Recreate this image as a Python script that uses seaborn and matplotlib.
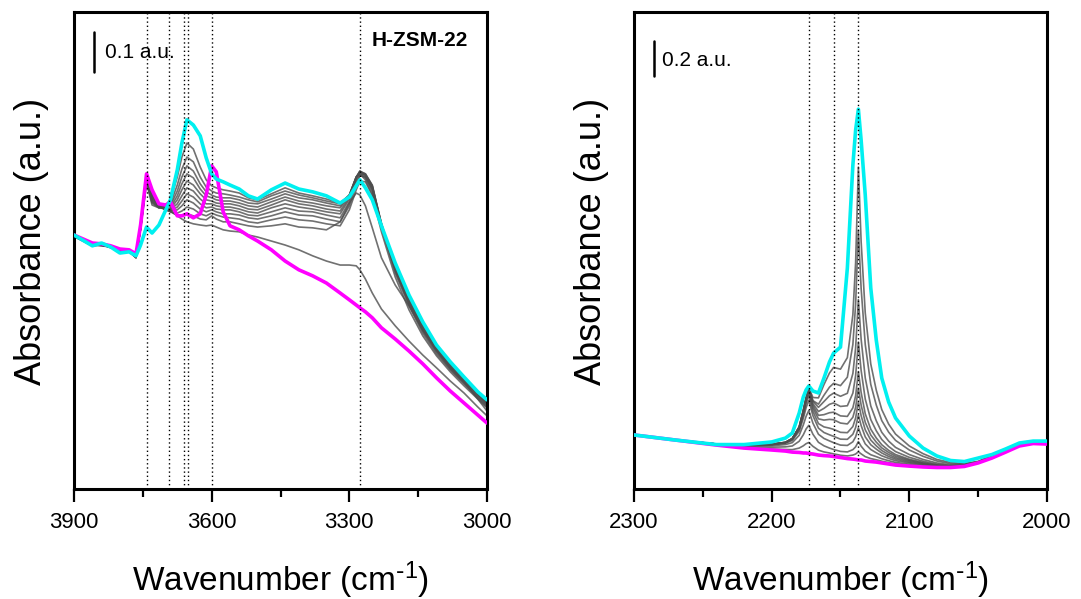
import seaborn as sns
import matplotlib.pyplot as plt
from matplotlib.ticker import MultipleLocator

# ---- O-H stretching region (left panel) ----
oh_wavenumber = [3900, 3860, 3840, 3820, 3800, 3780, 3765, 3755, 3742, 3730, 3715, 3700,
                 3690, 3675, 3665, 3654, 3640, 3625, 3612, 3600, 3590, 3575, 3560, 3540,
                 3520, 3500, 3470, 3440, 3410, 3380, 3350, 3320, 3300, 3285, 3277, 3265,
                 3250, 3230, 3200, 3170, 3140, 3110, 3080, 3050, 3020, 3000]

# activated sample, before CO dosing (magenta)
oh_activated = [.635, .615, .613, .608, .600, .598, .588, .660, .788, .748, .713, .710,
                .718, .683, .683, .688, .678, .688, .735, .808, .793, .693, .658, .648,
                .633, .620, .598, .570, .548, .533, .515, .490, .473, .460, .453, .443,
                .428, .403, .375, .345, .313, .278, .245, .215, .185, .165]

# highest CO coverage (cyan)
oh_saturated = [.635, .608, .615, .605, .590, .593, .583, .610, .655, .640, .660, .698,
                .723, .798, .865, .923, .910, .883, .828, .788, .775, .768, .760, .750,
                .733, .725, .748, .765, .750, .743, .733, .715, .730, .758, .773, .753,
                .723, .658, .565, .485, .418, .360, .318, .280, .243, .223]

# intermediate CO doses (grey)
oh_doses = [
    [.633, .610, .610, .605, .595, .595, .580, .653, .785, .740, .715, .703,
     .695, .683, .675, .668, .663, .660, .658, .660, .655, .648, .645, .643,
     .635, .630, .620, .610, .598, .583, .570, .560, .560, .558, .548, .525,
     .490, .450, .408, .370, .335, .303, .270, .240, .205, .183],
    [.631, .608, .611, .603, .596, .593, .579, .652, .783, .735, .713, .700,
     .693, .685, .683, .688, .683, .675, .673, .683, .675, .668, .668, .663,
     .658, .655, .658, .663, .655, .653, .648, .668, .715, .740, .735, .708,
     .653, .578, .510, .458, .398, .348, .305, .268, .225, .195],
    [.634, .611, .609, .606, .594, .596, .581, .654, .783, .733, .710, .698,
     .693, .690, .695, .705, .700, .688, .683, .690, .685, .680, .678, .675,
     .668, .665, .673, .680, .673, .670, .663, .658, .698, .748, .770, .768,
     .733, .643, .530, .448, .383, .333, .293, .258, .225, .203],
    [.632, .609, .612, .604, .597, .594, .578, .651, .780, .730, .710, .698,
     .695, .698, .708, .723, .715, .700, .693, .698, .693, .688, .688, .685,
     .678, .675, .683, .693, .685, .683, .675, .668, .708, .760, .783, .780,
     .750, .653, .540, .458, .390, .338, .298, .263, .228, .205],
    [.635, .610, .610, .606, .595, .596, .580, .653, .780, .728, .708, .698,
     .695, .705, .720, .738, .730, .713, .703, .705, .700, .698, .698, .693,
     .685, .683, .693, .703, .695, .693, .685, .678, .718, .768, .788, .785,
     .758, .658, .545, .463, .395, .343, .300, .265, .230, .208],
    [.633, .611, .608, .605, .593, .595, .579, .652, .778, .725, .708, .698,
     .698, .713, .733, .753, .745, .725, .713, .713, .708, .705, .705, .700,
     .693, .690, .703, .713, .705, .700, .693, .688, .725, .775, .793, .788,
     .760, .663, .548, .465, .398, .345, .303, .268, .233, .210],
    [.632, .609, .611, .604, .596, .593, .581, .654, .778, .723, .705, .698,
     .700, .723, .748, .770, .760, .738, .723, .720, .715, .713, .713, .708,
     .700, .698, .710, .723, .713, .708, .700, .695, .730, .778, .795, .788,
     .758, .663, .550, .468, .400, .348, .305, .270, .235, .213],
    [.634, .610, .609, .606, .594, .596, .580, .653, .775, .720, .705, .700,
     .703, .733, .763, .788, .778, .750, .733, .728, .723, .720, .720, .715,
     .708, .705, .718, .730, .720, .715, .708, .703, .733, .780, .795, .785,
     .755, .663, .553, .470, .403, .350, .308, .273, .238, .213],
    [.633, .608, .610, .605, .595, .594, .578, .652, .773, .718, .703, .703,
     .708, .745, .780, .808, .795, .763, .743, .735, .730, .728, .728, .723,
     .715, .713, .725, .738, .728, .723, .715, .708, .735, .780, .793, .783,
     .750, .660, .553, .473, .405, .353, .310, .275, .238, .215],
    [.635, .611, .611, .604, .596, .595, .580, .651, .770, .715, .703, .705,
     .713, .760, .800, .830, .818, .780, .755, .745, .740, .738, .735, .730,
     .723, .718, .733, .745, .735, .728, .720, .713, .735, .780, .790, .778,
     .745, .658, .555, .475, .408, .355, .313, .275, .240, .215],
    [.633, .609, .612, .606, .594, .594, .581, .650, .765, .710, .703, .710,
     .723, .780, .830, .865, .850, .805, .773, .758, .753, .748, .745, .740,
     .728, .723, .738, .753, .740, .733, .725, .715, .735, .780, .788, .773,
     .738, .658, .558, .478, .410, .358, .313, .278, .240, .218],
]

oh_bands = [3742, 3692, 3660, 3652, 3600, 3277]

# ---- C-O stretching region (right panel) ----
co_wavenumber = [2300, 2270, 2240, 2220, 2200, 2190, 2185, 2180, 2177, 2175, 2173, 2170,
                 2166, 2162, 2158, 2155, 2150, 2145, 2141, 2139, 2137, 2135, 2132, 2128,
                 2124, 2120, 2115, 2110, 2100, 2090, 2080, 2070, 2060, 2050, 2040, 2030,
                 2020, 2010, 2000]

co_activated = [.309, .280, .251, .234, .223, .217, .211, .209, .206, .206, .203, .200,
                 .194, .191, .189, .186, .180, .174, .171, .169, .166, .166, .160, .157,
                 .154, .149, .143, .137, .131, .126, .123, .123, .129, .149, .177, .211,
                 .246, .260, .257]

co_saturated = [.309, .280, .254, .254, .269, .291, .320, .434, .526, .566, .589, .560,
                .549, .634, .726, .777, .811, 1.263, 1.851, 2.051, 2.171, 1.994, 1.680, 1.149,
                .851, .634, .497, .406, .303, .234, .189, .163, .157, .177, .197, .229,
                .263, .274, .274]

co_doses = [
    [.309, .280, .252, .237, .229, .226, .225, .234, .247, .259, .266, .244,
     .222, .212, .206, .201, .193, .189, .194, .200, .213, .201, .185, .174,
     .167, .159, .151, .143, .136, .129, .125, .124, .129, .149, .178, .212,
     .247, .261, .258],
    [.309, .280, .254, .242, .239, .241, .246, .273, .310, .343, .364, .313,
     .267, .247, .234, .226, .215, .212, .225, .241, .271, .245, .216, .196,
     .185, .173, .162, .152, .142, .133, .127, .125, .130, .149, .179, .213,
     .248, .262, .259],
    [.309, .280, .256, .246, .247, .254, .265, .307, .366, .415, .449, .376,
     .313, .289, .275, .265, .251, .249, .270, .298, .350, .306, .258, .226,
     .207, .190, .175, .162, .149, .138, .130, .126, .131, .150, .180, .214,
     .249, .263, .260],
    [.309, .280, .257, .249, .253, .262, .277, .330, .404, .464, .507, .419,
     .348, .323, .310, .301, .285, .284, .313, .351, .424, .363, .298, .253,
     .228, .206, .186, .171, .154, .142, .132, .127, .131, .150, .181, .215,
     .250, .263, .261],
    [.309, .280, .257, .250, .255, .265, .283, .341, .422, .488, .535, .444,
     .374, .355, .348, .341, .324, .322, .357, .406, .499, .419, .338, .280,
     .247, .220, .197, .179, .160, .145, .134, .128, .132, .151, .182, .216,
     .251, .264, .262],
    [.309, .280, .257, .251, .256, .266, .286, .347, .433, .501, .552, .463,
     .401, .394, .398, .396, .377, .372, .410, .466, .576, .480, .381, .309,
     .268, .235, .209, .188, .165, .148, .136, .129, .133, .151, .183, .217,
     .252, .265, .263],
    [.309, .280, .257, .251, .256, .267, .288, .351, .440, .511, .563, .477,
     .421, .425, .436, .439, .418, .415, .464, .533, .671, .552, .430, .342,
     .292, .253, .221, .197, .170, .152, .138, .131, .134, .151, .184, .218,
     .253, .266, .264],
    [.309, .280, .257, .251, .256, .267, .289, .353, .444, .515, .568, .488,
     .443, .461, .484, .492, .472, .476, .548, .647, .840, .678, .514, .397,
     .333, .283, .243, .214, .181, .159, .142, .134, .135, .152, .186, .220,
     .254, .267, .265],
    [.309, .280, .257, .251, .256, .267, .289, .355, .449, .521, .576, .501,
     .467, .500, .533, .548, .530, .547, .660, .806, 1.083, .857, .635, .475,
     .390, .324, .274, .238, .197, .169, .149, .138, .138, .153, .188, .222,
     .256, .268, .267],
    [.309, .280, .257, .250, .255, .265, .288, .354, .447, .517, .572, .505,
     .485, .536, .582, .604, .591, .639, .826, 1.055, 1.479, 1.147, .826, .598,
     .480, .391, .325, .278, .223, .187, .160, .145, .142, .156, .190, .224,
     .258, .270, .269],
    [.309, .280, .257, .250, .254, .264, .288, .355, .452, .523, .579, .523,
     .521, .597, .663, .695, .685, .751, .996, 1.294, 1.840, 1.415, 1.006, .715,
     .565, .454, .371, .314, .246, .202, .169, .152, .146, .158, .193, .226,
     .260, .272, .271],
]

co_bands = [2173, 2155, 2137]


sns.set_style("ticks")
plt.rcParams["font.family"] = ["Liberation Sans", "DejaVu Sans"]
plt.rcParams["mathtext.default"] = "regular"
plt.rcParams["text.color"] = "black"
plt.rcParams["axes.labelcolor"] = "black"
plt.rcParams["xtick.color"] = "black"


def draw_panel(ax, wn, activated, saturated, doses, bands, xlim, ylim, major, minor):
    # grey spectra for the intermediate doses, then the two extremes on top
    for spectrum in doses:
        sns.lineplot(x=wn, y=spectrum, ax=ax, color="#4d4d4d", lw=1.2,
                     alpha=0.8, estimator=None, zorder=2)
    sns.lineplot(x=wn, y=activated, ax=ax, color="#ff00ff", lw=2.6,
                 estimator=None, zorder=3)
    sns.lineplot(x=wn, y=saturated, ax=ax, color="#00f0f0", lw=2.6,
                 estimator=None, zorder=4)

    for b in bands:
        ax.axvline(b, color="black", ls=(0, (1, 2)), lw=1.0, zorder=5)

    ax.set_xlim(*xlim)
    ax.set_ylim(*ylim)
    ax.xaxis.set_major_locator(MultipleLocator(major))
    ax.xaxis.set_minor_locator(MultipleLocator(minor))
    ax.set_yticks([])
    ax.tick_params(axis="x", which="major", direction="out", length=9.5,
                   width=1.6, labelsize=16, pad=7, top=False)
    ax.tick_params(axis="x", which="minor", direction="out", length=5.5,
                   width=1.6, top=False)
    for spine in ax.spines.values():
        spine.set_linewidth(2.2)
        spine.set_color("black")
    ax.set_xlabel("Wavenumber (cm$^{\\text{-}1}$)", fontsize=24, labelpad=19)
    ax.set_ylabel("Absorbance (a.u.)", fontsize=26, labelpad=18)
    ax.yaxis.label.set_y(0.52)


fig = plt.figure(figsize=(10.81, 5.99), dpi=100)
ax1 = fig.add_axes([0.0685, 0.1836, 0.382, 0.7963])
ax2 = fig.add_axes([0.5865, 0.1836, 0.382, 0.7963])

draw_panel(ax1, oh_wavenumber, oh_activated, oh_saturated, oh_doses, oh_bands,
           (3900, 3000), (0, 1.1925), 300, 150)
draw_panel(ax2, co_wavenumber, co_activated, co_saturated, co_doses, co_bands,
           (2300, 2000), (0, 2.726), 100, 50)

# scale bars
ax1.plot([3856, 3856], [1.0425, 1.1425], color="black", lw=1.8)
ax1.text(3833, 1.092, "0.1 a.u.", fontsize=15, ha="left", va="center")
ax1.text(0.954, 0.941, "H-ZSM-22", transform=ax1.transAxes, fontsize=15,
         fontweight="bold", ha="right", va="center")

ax2.plot([2285.5, 2285.5], [2.36, 2.56], color="black", lw=1.8)
ax2.text(2280, 2.451, "0.2 a.u.", fontsize=15, ha="left", va="center")

fig.savefig("out.png", dpi=100)
